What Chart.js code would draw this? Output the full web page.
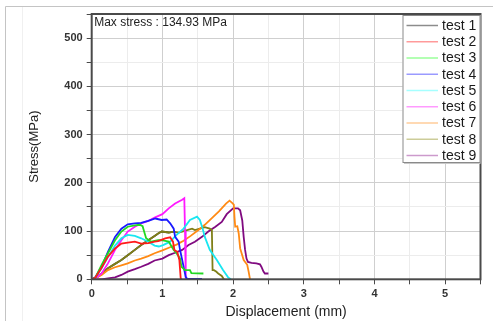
<!DOCTYPE html>
<html>
<head>
<meta charset="utf-8">
<script src="https://cdn.jsdelivr.net/npm/chart.js@4/dist/chart.umd.min.js"></script>
<style>
	html, body { margin: 0; padding: 0; background: #fff; }
	#wrap { width: 498px; height: 321px; }
</style>
</head>
<body>
<div id="wrap"><canvas id="chart" width="498" height="321"></canvas></div>
<script>
// series names + colours (lines / pale legend samples)
const test_names = ['test 1', 'test 2', 'test 3', 'test 4', 'test 5', 'test 6', 'test 7', 'test 8', 'test 9'];
const line_colors = ['#3a3a3a', '#ff1a1a', '#22d822', '#1a1aff', '#19e6f0', '#ff19ff', '#ff8a14', '#7f7f18', '#800a80'];
const legend_colors = ['#8c8c8c', '#ff9a9a', '#9aff9a', '#9a9aff', '#a6ffff', '#ff9aff', '#ffcc9a', '#cccc99', '#cc9acc'];

const max_stress_text = 'Max stress : 134.93 MPa';

// displacement (mm) / stress (MPa)
const disp_1 = [0, 0.05, 0.14, 0.23, 0.33, 0.42, 0.51, 0.61, 0.70, 0.80, 0.89, 0.94, 0.99, 1.09, 1.16];
const stress_1 = [0, 2, 12, 23, 32, 40, 50, 61, 71, 81, 90, 95, 99, 97, 99];

const disp_2 = [0, 0.05, 0.14, 0.23, 0.33, 0.42, 0.51, 0.61, 0.70, 0.80, 0.89, 0.94, 1.04, 1.11, 1.15, 1.17, 1.21, 1.24, 1.26, 1.28];
const stress_2 = [0, 3, 24, 47, 64, 74, 76, 78, 74, 75, 78, 79, 85, 87, 78, 61, 57, 40, 0, 0];

const disp_3 = [0, 0.05, 0.14, 0.23, 0.33, 0.42, 0.51, 0.61, 0.68, 0.72, 0.75, 0.77, 0.84, 0.94, 0.99, 1.09, 1.16, 1.20, 1.25, 1.27, 1.32, 1.39, 1.41, 1.58];
const stress_3 = [0, 3, 30, 54, 81, 99, 109, 112, 113, 110, 95, 85, 78, 81, 81, 78, 61, 54, 43, 26, 19, 19, 13, 12];

const disp_4 = [0, 0.05, 0.14, 0.23, 0.33, 0.42, 0.51, 0.61, 0.70, 0.80, 0.90, 0.99, 1.06, 1.11, 1.16, 1.18, 1.23, 1.25, 1.28, 1.31, 1.33, 1.35, 1.56];
const stress_4 = [0, 4, 26, 57, 88, 105, 114, 116, 117, 121, 126, 123, 124, 116, 105, 88, 78, 61, 40, 19, 5, 1, 1];

const disp_5 = [0, 0.05, 0.14, 0.23, 0.33, 0.42, 0.51, 0.61, 0.70, 0.80, 0.89, 0.95, 1.01, 1.11, 1.20, 1.30, 1.39, 1.49, 1.53, 1.57, 1.60, 1.67, 1.77, 1.86, 1.93, 1.97];
const stress_5 = [0, 2, 23, 46, 70, 85, 92, 90, 85, 78, 70, 68, 71, 78, 92, 105, 123, 130, 123, 105, 88, 61, 40, 19, 4, 0];

const disp_6 = [0, 0.05, 0.14, 0.23, 0.33, 0.42, 0.51, 0.61, 0.70, 0.80, 0.89, 1.0, 1.09, 1.18, 1.28, 1.31, 1.32, 1.33];
const stress_6 = [0, 1, 12, 33, 61, 81, 99, 109, 116, 121, 128, 135, 147, 157, 165, 168, 100, 0];

const disp_7 = [0, 0.05, 0.14, 0.23, 0.33, 0.42, 0.51, 0.61, 0.70, 0.80, 0.89, 1.0, 1.1, 1.2, 1.3, 1.4, 1.5, 1.6, 1.7, 1.8, 1.9, 1.95, 1.99, 2.01, 2.02, 2.03, 2.06, 2.08, 2.10, 2.15, 2.20, 2.22, 2.24];
const stress_7 = [0, 2, 9, 19, 25, 29, 33, 39, 43, 48, 54, 60, 66, 72, 80, 90, 101, 113, 127, 141, 157, 163, 158, 155, 129, 109, 110, 95, 64, 40, 30, 16, 0];

const disp_8 = [0, 0.05, 0.14, 0.23, 0.33, 0.42, 0.51, 0.61, 0.70, 0.80, 0.89, 0.94, 0.99, 1.09, 1.16, 1.23, 1.28, 1.35, 1.42, 1.46, 1.53, 1.60, 1.67, 1.70, 1.71, 1.73, 1.76, 1.79, 1.84, 1.87];
const stress_8 = [0, 2, 12, 23, 32, 40, 50, 61, 71, 81, 90, 95, 99, 97, 99, 97, 99, 102, 105, 102, 105, 108, 105, 102, 19, 19, 16, 12, 7, 0];

const disp_9 = [0, 0.14, 0.23, 0.33, 0.42, 0.51, 0.61, 0.70, 0.80, 0.89, 1.0, 1.09, 1.18, 1.28, 1.37, 1.46, 1.56, 1.65, 1.75, 1.84, 1.91, 2.0, 2.07, 2.10, 2.13, 2.15, 2.17, 2.19, 2.21, 2.26, 2.33, 2.38, 2.40, 2.43, 2.45, 2.50];
const stress_9 = [0, 0, 2, 4, 9, 16, 21, 26, 32, 39, 43, 50, 55, 61, 71, 78, 88, 99, 109, 119, 135, 147, 147, 143, 122, 88, 61, 43, 36, 34, 33, 31, 26, 16, 12, 12];

const all_disp = [disp_1, disp_2, disp_3, disp_4, disp_5, disp_6, disp_7, disp_8, disp_9];
const all_stress = [stress_1, stress_2, stress_3, stress_4, stress_5, stress_6, stress_7, stress_8, stress_9];

const to_points = (xs, ys) => xs.map((x, i) => ({ x: x, y: ys[i] }));

const datasets = test_names.map((name, i) => ({
	label: name,
	data: to_points(all_disp[i], all_stress[i]),
	borderColor: line_colors[i],
	backgroundColor: line_colors[i],
	borderWidth: 1.8,
	pointRadius: 0,
	showLine: true,
	tension: 0,
	order: i == 0 ? 20 : i   // test 1 sits underneath
}));

const is_major = (v, step) => Math.abs(v / step - Math.round(v / step)) < 1e-6;

// outer frame, plot box, note text and the boxed legend
const decorations = {
	id: 'decorations',
	beforeDraw(chart) {
		const ctx = chart.ctx;
		ctx.save();
		ctx.fillStyle = '#fff';
		ctx.fillRect(0, 0, chart.width, chart.height);
		ctx.strokeStyle = '#c4c4c4';
		ctx.lineWidth = 1;
		ctx.beginPath();
		ctx.moveTo(5.5, 330);
		ctx.lineTo(5.5, 6.5);
		ctx.lineTo(493, 6.5);
		ctx.stroke();
		ctx.strokeStyle = '#f0f0f0';
		ctx.beginPath();
		ctx.moveTo(22.5, 7);
		ctx.lineTo(22.5, 330);
		ctx.stroke();
		ctx.restore();
	},
	afterDraw(chart) {
		const ctx = chart.ctx;
		const a = chart.chartArea;
		ctx.save();
		ctx.strokeStyle = '#4a4a4a';
		ctx.lineWidth = 2;
		ctx.strokeRect(a.left, a.top, a.right - a.left, a.bottom - a.top);

		ctx.fillStyle = '#222';
		ctx.font = '12px "Liberation Sans", Arial, sans-serif';
		ctx.textBaseline = 'middle';
		ctx.textAlign = 'left';
		ctx.fillText(max_stress_text, a.left + 2.5, a.top + 8.5);

		// legend box
		const bx = a.right - 78, by = a.top + 1, bw = 78, bh = 148;
		ctx.fillStyle = '#fff';
		ctx.fillRect(bx, by, bw, bh);
		ctx.strokeStyle = '#8a8a8a';
		ctx.lineWidth = 1;
		ctx.strokeRect(bx + 0.5, by + 0.5, bw - 1, bh - 1);
		ctx.strokeStyle = '#c8c8c8';
		ctx.beginPath();
		ctx.moveTo(bx + 1.5, by + bh + 0.5);
		ctx.lineTo(bx + bw, by + bh + 0.5);
		ctx.stroke();
		ctx.font = '14px "Liberation Sans", Arial, sans-serif';
		test_names.forEach((name, i) => {
			const y = by + 10.5 + i * 16.25;
			ctx.strokeStyle = legend_colors[i];
			ctx.lineWidth = 1.5;
			ctx.beginPath();
			ctx.moveTo(bx + 4, y);
			ctx.lineTo(bx + 35.5, y);
			ctx.stroke();
			ctx.fillStyle = '#1a1a1a';
			ctx.fillText(name, bx + 39.5, y + 0.5);
		});
		ctx.restore();
	}
};

new Chart(document.getElementById('chart'), {
	type: 'scatter',
	data: { datasets: datasets },
	options: {
		responsive: false,
		animation: false,
		layout: { padding: { top: 14, right: 17.5, left: 0, bottom: 0 } },
		plugins: {
			legend: { display: false },
			tooltip: { enabled: false }
		},
		scales: {
			x: {
				type: 'linear',
				min: 0,
				max: 5.5,
				afterFit: (scale) => { scale.height = 41.7; },
				ticks: {
					stepSize: 0.5,
					padding: 3,
					color: '#333',
					font: { family: '"Liberation Sans", Arial, sans-serif', size: 11, weight: 'bold' },
					callback: (v) => is_major(v, 1) ? String(v) : ''
				},
				grid: {
					color: (c) => is_major(c.tick.value, 1) ? '#cfcfcf' : '#ececec',
					lineWidth: 1,
					tickLength: 5,
					tickColor: '#4a4a4a'
				},
				border: { display: false },
				title: {
					display: true,
					text: 'Displacement (mm)',
					color: '#222',
					padding: { top: 0, bottom: 0 },
					font: { family: '"Liberation Sans", Arial, sans-serif', size: 14 }
				}
			},
			y: {
				type: 'linear',
				min: 0,
				max: 550,
				afterFit: (scale) => { scale.width = 91.7; },
				ticks: {
					stepSize: 50,
					padding: 4,
					color: '#333',
					font: { family: '"Liberation Sans", Arial, sans-serif', size: 11, weight: 'bold' },
					callback: (v) => is_major(v, 100) ? String(v) : ''
				},
				grid: {
					color: (c) => is_major(c.tick.value, 100) ? '#cfcfcf' : '#ececec',
					lineWidth: 1,
					tickLength: 5,
					tickColor: '#4a4a4a'
				},
				border: { display: false },
				title: {
					display: true,
					text: 'Stress(MPa)',
					color: '#222',
					padding: { top: 27, bottom: 0 },
					font: { family: '"Liberation Sans", Arial, sans-serif', size: 13 }
				}
			}
		}
	},
	plugins: [decorations]
});
</script>
</body>
</html>
